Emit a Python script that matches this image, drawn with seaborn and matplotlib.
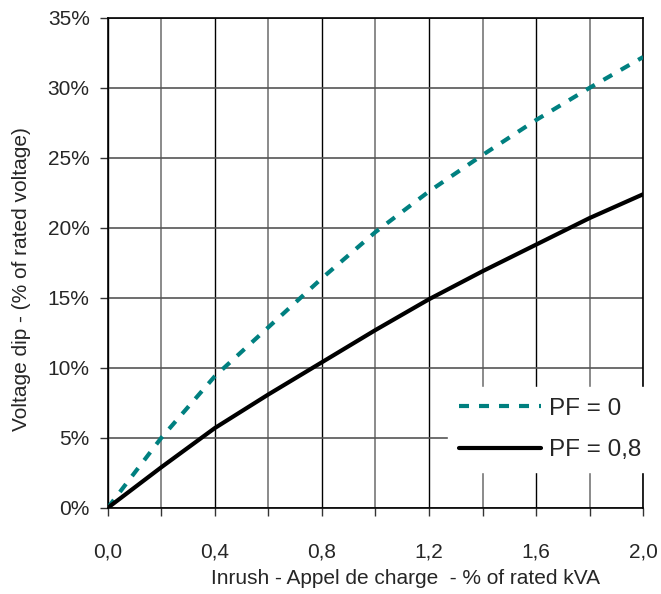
import numpy as np
import pandas as pd
import matplotlib
matplotlib.use("Agg")
import matplotlib.pyplot as plt
import seaborn as sns
from matplotlib.ticker import MultipleLocator, FuncFormatter

# values
inrush = [0.0, 0.2, 0.4, 0.6, 0.8, 1.0, 1.2, 1.4, 1.6, 1.8, 2.0]
dip_pf0 = [0.0, 5.0, 9.4, 12.9, 16.4, 19.7, 22.6, 25.2, 27.7, 30.0, 32.2]
dip_pf08 = [0.0, 2.9, 5.7, 8.1, 10.4, 12.7, 14.9, 16.9, 18.8, 20.7, 22.4]
labels = ["PF = 0", "PF = 0,8"]

sns.set_style("ticks")
plt.rcParams["font.family"] = ["Liberation Sans", "DejaVu Sans"]

df = pd.DataFrame({
    "inrush": inrush * 2,
    "dip": dip_pf0 + dip_pf08,
    "pf": [labels[0]] * len(inrush) + [labels[1]] * len(inrush),
})

fig = plt.figure(figsize=(6.61, 5.94), dpi=100)
ax = fig.add_axes([0.163, 0.145, 0.81, 0.825])

sns.lineplot(data=df, x="inrush", y="dip", hue="pf", style="pf",
             palette={labels[0]: "#008080", labels[1]: "black"},
             dashes={labels[0]: (2.4, 2.4), labels[1]: ""},
             linewidth=3, ax=ax, zorder=3)

ax.set_xlim(0, 2.0)
ax.set_ylim(0, 35)
ax.xaxis.set_major_locator(MultipleLocator(0.4))
ax.xaxis.set_minor_locator(MultipleLocator(0.2))
ax.yaxis.set_major_locator(MultipleLocator(5))
ax.xaxis.set_major_formatter(FuncFormatter(lambda v, p: f"{v:.1f}".replace(".", ",")))
ax.yaxis.set_major_formatter(FuncFormatter(lambda v, p: f"{v:.0f}%"))

ax.grid(which="major", axis="x", color="black", linewidth=1)
ax.grid(which="minor", axis="x", color="#777777", linewidth=1.2)
ax.grid(which="major", axis="y", color="#555555", linewidth=1.2)
ax.set_axisbelow(True)

for s in ax.spines.values():
    s.set_visible(True)
    s.set_color("black")
    s.set_linewidth(1.2)

ax.tick_params(axis="both", which="both", direction="out", length=6, width=1,
               labelsize=15, color="#333333")
ax.tick_params(axis="x", which="both", pad=19)
ax.tick_params(axis="y", pad=7)

ax.set_xlabel("Inrush - Appel de charge  - % of rated kVA", fontsize=15,
              labelpad=5, x=0.557)
ax.set_ylabel("Voltage dip - (% of rated voltage)", fontsize=15,
              labelpad=12, y=0.467)

leg = ax.legend(loc="upper left", bbox_to_anchor=(0.635, 0.247), borderaxespad=0,
                fontsize=17.5, frameon=True, fancybox=False, edgecolor="white",
                framealpha=1, handlelength=3.4, handletextpad=0.3,
                borderpad=0.45, labelspacing=0.8, title=None)
leg.set_zorder(10)
for h in leg.get_lines():
    h.set_linewidth(3)

fig.savefig("out.png", dpi=100)
